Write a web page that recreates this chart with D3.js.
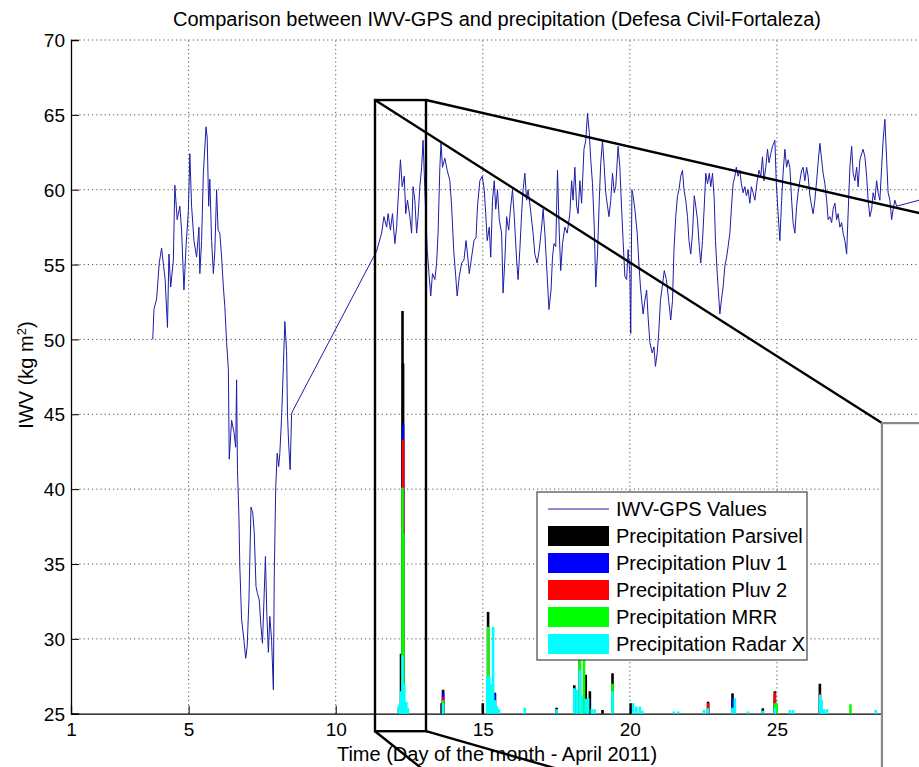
<!DOCTYPE html>
<html>
<head>
<meta charset="utf-8">
<script src="https://cdn.jsdelivr.net/npm/d3@7"></script>
<style>
  body { margin: 0; background: #fff; }
  text { font-family: "Liberation Sans", Arial, sans-serif; fill: #000; }
</style>
</head>
<body>
<svg></svg>
<script>
var width = 919,
	height = 767;

// IWV-GPS series [day, kg m-2]
var iwv = [
	[3.78,50.0],[3.82,52.0],[3.91,52.7],[4.0,55.1],[4.08,56.1],[4.2,54.0],[4.28,50.8],[4.33,55.7],[4.39,53.5],[4.48,55.3],
	[4.53,60.3],[4.61,58.0],[4.7,58.9],[4.76,57.3],[4.84,53.3],[4.91,56.2],[4.99,58.6],[5.04,62.4],[5.1,58.9],[5.18,56.6],
	[5.27,55.5],[5.35,57.5],[5.38,54.4],[5.44,56.6],[5.5,61.1],[5.59,64.2],[5.63,63.5],[5.68,58.9],[5.72,60.7],[5.78,56.6],
	[5.84,54.4],[5.89,55.9],[5.95,60.0],[6.0,57.3],[6.06,57.1],[6.12,55.5],[6.18,53.5],[6.23,52.2],[6.29,49.8],[6.35,48.0],
	[6.38,42.0],[6.46,44.6],[6.54,43.8],[6.6,42.8],[6.63,47.3],[6.66,41.3],[6.71,38.1],[6.74,34.8],[6.8,31.3],[6.88,29.9],
	[6.94,28.7],[6.99,29.5],[7.05,32.6],[7.12,38.8],[7.18,38.4],[7.23,37.1],[7.29,33.5],[7.33,33.1],[7.4,32.6],[7.46,30.8],
	[7.51,29.7],[7.57,33.1],[7.61,35.5],[7.66,31.5],[7.71,29.1],[7.76,31.5],[7.82,29.9],[7.88,26.6],[7.91,34.1],[7.96,40.1],
	[8.01,42.4],[8.06,41.5],[8.1,42.4],[8.16,44.8],[8.22,48.2],[8.27,51.2],[8.33,49.2],[8.36,45.0],[8.4,43.0],[8.45,41.3],
	[8.5,45.0],[8.53,45.2],
	[11.39,55.9],[11.56,57.1],[11.64,58.2],[11.73,57.5],[11.78,58.4],[11.86,57.3],[11.93,58.4],[12.01,56.4],[12.07,57.5],[12.12,59.3],
	[12.2,62.0],[12.26,60.2],[12.33,60.9],[12.38,58.4],[12.44,59.3],[12.52,58.2],[12.58,57.1],[12.63,60.2],[12.69,59.3],[12.75,57.1],
	[12.8,58.2],[12.86,60.2],[12.92,61.5],[12.97,63.3],[13.03,60.0],[13.11,56.0],[13.17,54.4],[13.23,52.9],[13.29,54.4],[13.37,54.0],
	[13.43,55.1],[13.48,57.1],[13.54,61.5],[13.58,63.1],[13.63,61.5],[13.71,62.1],[13.79,61.3],[13.88,60.6],[13.94,58.9],[14.01,56.0],
	[14.08,54.2],[14.13,52.9],[14.2,54.2],[14.28,55.1],[14.36,55.3],[14.43,56.6],[14.48,55.7],[14.54,54.4],[14.62,55.5],[14.7,56.6],
	[14.77,56.8],[14.82,58.9],[14.9,60.6],[14.98,60.9],[15.05,60.0],[15.1,58.4],[15.15,56.6],[15.22,57.5],[15.27,55.5],[15.33,59.3],
	[15.39,60.6],[15.44,58.7],[15.5,60.0],[15.56,58.0],[15.64,57.1],[15.69,53.1],[15.75,55.3],[15.81,58.2],[15.88,57.3],[15.94,58.7],
	[16.01,60.0],[16.07,58.2],[16.15,55.3],[16.2,54.0],[16.26,56.0],[16.32,58.4],[16.37,60.0],[16.43,61.1],[16.49,59.3],[16.54,60.0],
	[16.62,58.7],[16.71,57.1],[16.77,55.7],[16.85,55.1],[16.92,56.0],[17.0,57.5],[17.05,58.7],[17.11,57.1],[17.17,54.9],[17.25,52.0],
	[17.32,53.3],[17.37,55.5],[17.42,56.4],[17.48,56.2],[17.54,61.3],[17.6,57.1],[17.65,54.6],[17.71,56.4],[17.79,57.5],[17.87,57.1],
	[17.96,58.4],[18.02,60.6],[18.07,59.3],[18.13,61.5],[18.19,58.9],[18.24,58.4],[18.3,60.6],[18.36,59.1],[18.44,62.7],[18.5,63.3],
	[18.56,65.1],[18.62,63.8],[18.67,62.0],[18.73,60.4],[18.79,57.5],[18.84,53.5],[18.9,55.7],[18.96,59.3],[19.01,61.8],[19.07,63.3],
	[19.13,61.5],[19.18,59.8],[19.24,58.9],[19.29,58.2],[19.35,59.3],[19.41,61.1],[19.47,59.8],[19.52,60.2],[19.6,62.9],[19.66,61.5],
	[19.72,58.7],[19.77,56.6],[19.83,54.2],[19.89,54.0],[19.94,56.0],[20.0,54.4],[20.03,50.4],[20.07,60.0],[20.11,59.6],[20.17,58.7],
	[20.25,57.1],[20.3,55.3],[20.36,53.5],[20.45,51.7],[20.51,52.6],[20.57,53.3],[20.62,51.5],[20.68,49.8],[20.76,49.1],[20.82,49.5],
	[20.87,48.2],[20.93,49.1],[20.98,50.4],[21.04,52.6],[21.1,53.5],[21.17,54.6],[21.24,54.0],[21.32,52.6],[21.39,51.3],[21.45,52.6],
	[21.5,56.0],[21.56,58.2],[21.62,59.6],[21.67,60.0],[21.73,60.9],[21.79,61.3],[21.84,60.0],[21.9,59.3],[21.96,58.2],[22.01,56.6],
	[22.07,55.7],[22.13,57.1],[22.19,59.6],[22.24,58.9],[22.3,58.0],[22.36,56.2],[22.41,55.1],[22.47,56.6],[22.53,58.9],[22.58,61.1],
	[22.64,60.4],[22.7,61.1],[22.75,60.2],[22.81,61.1],[22.87,59.3],[22.91,56.6],[22.97,54.4],[23.03,52.6],[23.06,51.7],[23.11,52.6],
	[23.17,53.5],[23.23,54.9],[23.29,55.5],[23.34,56.2],[23.4,57.1],[23.45,58.7],[23.51,60.4],[23.57,60.9],[23.62,61.5],[23.68,60.9],
	[23.74,61.3],[23.79,60.4],[23.85,59.8],[23.91,60.2],[23.96,59.6],[24.02,60.0],[24.08,59.1],[24.13,60.2],[24.19,59.8],[24.25,59.3],
	[24.33,60.6],[24.39,61.3],[24.45,60.9],[24.51,62.2],[24.56,60.6],[24.62,61.5],[24.68,62.7],[24.73,61.8],[24.79,62.4],[24.85,62.9],
	[24.93,63.3],[24.98,60.4],[25.04,58.4],[25.1,56.6],[25.16,59.3],[25.21,61.1],[25.27,62.7],[25.33,61.5],[25.38,62.0],[25.44,61.5],
	[25.5,59.3],[25.55,57.8],[25.61,57.1],[25.67,58.9],[25.72,59.8],[25.78,60.6],[25.84,61.3],[25.89,61.5],[25.95,60.6],[26.01,61.5],
	[26.06,60.9],[26.12,59.6],[26.18,58.9],[26.23,58.4],[26.29,59.3],[26.35,60.6],[26.4,61.8],[26.46,63.1],[26.52,62.0],[26.57,61.1],
	[26.63,60.4],[26.69,59.3],[26.74,58.0],[26.8,58.2],[26.86,57.8],[26.91,58.7],[26.97,59.1],[27.03,58.0],[27.08,58.4],[27.14,57.5],
	[27.2,57.8],[27.25,57.1],[27.31,56.6],[27.37,55.7],[27.42,58.4],[27.48,61.5],[27.54,62.9],[27.59,61.1],[27.65,60.6],[27.71,61.5],
	[27.76,60.2],[27.82,62.0],[27.88,62.4],[27.93,62.7],[27.99,62.2],[28.05,60.9],[28.1,59.3],[28.16,58.2],[28.22,58.7],[28.27,59.8],
	[28.33,59.3],[28.39,60.6],[28.44,59.8],[28.5,59.3],[28.56,61.5],[28.61,63.3],[28.67,64.7],[28.73,62.0],[28.78,59.8],[28.84,59.3],
	[28.9,58.0],[28.95,58.7],[29.01,59.3],[29.07,58.9],[30.6,59.7]
];

// precipitation events [day, amount above the 25 baseline]
var parsivel = [[12.15,0.4],[12.22,4.0],[12.27,26.9],[12.29,23.4],[13.6,0.7],[13.65,1.6],[15.0,0.7],[15.18,6.8],[15.41,1.4],
	[17.51,0.4],[18.11,1.9],[18.3,4.8],[18.5,2.6],[18.64,1.5],[19.07,0.25],[19.41,2.7],[20.03,0.7],[22.66,0.8],[23.49,1.36],
	[24.52,0.36],[24.93,1.5],[26.46,2.0]];
var pluv1 = [[12.29,19.3],[13.65,1.4],[15.41,1.3],[23.49,1.03],[24.93,0.9]];
var pluv2 = [[12.29,18.3],[13.65,1.1],[22.66,0.7],[24.93,1.4],[26.46,1.36]];
var mrr = [[12.27,15.1],[12.3,12.0],[13.65,0.9],[15.18,5.8],[18.3,3.9],[18.44,6.5],[19.41,2.0],[23.49,0.3],[24.93,0.7],
	[24.99,0.7],[27.5,0.63]];
var radarX = [[12.15,0.6],[12.22,1.5],[12.27,3.9],[12.33,2.0],[12.4,0.8],[12.45,0.4],[13.65,0.7],[15.15,2.5],[15.22,2.5],
	[15.29,2.0],[15.35,5.8],[15.41,0.9],[15.47,0.5],[15.55,0.3],[16.43,0.4],[17.51,0.3],[18.11,1.7],[18.19,1.6],[18.3,2.9],
	[18.37,1.2],[18.5,1.0],[18.58,1.05],[18.7,0.3],[18.8,0.3],[19.41,1.5],[20.11,0.7],[20.22,0.47],[20.34,0.47],[20.42,0.2],
	[21.5,0.15],[21.65,0.15],[22.52,0.25],[22.66,0.36],[23.49,0.4],[23.57,1.03],[24.02,0.15],[24.52,0.2],[24.93,0.4],
	[25.44,0.25],[25.55,0.25],[26.46,1.25],[26.52,0.9],[26.6,0.3],[26.7,0.3],[28.36,0.25]];

var seriesNames = ["Precipitation Parsivel","Precipitation Pluv 1","Precipitation Pluv 2","Precipitation MRR","Precipitation Radar X"];
var seriesColors = ["#000000","#0000ff","#ff0000","#00ff00","#00ffff"];
var xTicks = [1,5,10,15,20,25];
var xGrid = [5,10,15,20,25,30];
var yTicks = [25,30,35,40,45,50,55,60,65,70];

// zoom annotation, in data units
var zoomBox = {x0: 11.335, x1: 13.069, y0: 23.83, y1: 65.99};
var insetBox = {x0: 28.57, x1: 61.0, y0: -3.16, y1: 44.41};

var svg = d3.select("svg")
			.attr("width",width)
			.attr("height",height);

var x = d3.scaleLinear().domain([1,30]).range([71,924]);
var y = d3.scaleLinear().domain([25,70]).range([713.7,40]);

// grid
svg.append("g")
	.selectAll("line")
	.data(xGrid)
	.enter().append("line")
	.attr("x1", function(d){ return x(d); })
	.attr("x2", function(d){ return x(d); })
	.attr("y1", y(25)).attr("y2", y(70))
	.attr("stroke","#555").attr("stroke-dasharray","1.2,3");
svg.append("g")
	.selectAll("line")
	.data(yTicks.filter(function(d){ return d > 25; }))
	.enter().append("line")
	.attr("x1", x(1)).attr("x2", x(30))
	.attr("y1", function(d){ return y(d); })
	.attr("y2", function(d){ return y(d); })
	.attr("stroke","#555").attr("stroke-dasharray","1.2,3");

// axes
var xAxis = svg.append("g")
	.attr("transform","translate(0," + y(25) + ")")
	.call(d3.axisBottom(x).tickValues(xTicks).tickSize(-8).tickPadding(9).tickFormat(d3.format("d")));
var yAxis = svg.append("g")
	.attr("transform","translate(" + x(1) + ",0)")
	.call(d3.axisLeft(y).tickValues(yTicks).tickSize(-8).tickPadding(6).tickFormat(d3.format("d")));
[xAxis, yAxis].forEach(function(a){
	a.select(".domain").attr("stroke","#000").attr("stroke-width",1.3);
	a.selectAll(".tick line").attr("stroke","#000");
	a.selectAll("text").style("font-size","19px").attr("fill","#000");
});
yAxis.selectAll("text").attr("dy","0.35em");

// IWV line
var line = d3.line()
	.x(function(d){ return x(d[0]); })
	.y(function(d){ return y(d[1]); });
svg.append("path")
	.attr("d", line(iwv))
	.attr("fill","none")
	.attr("stroke","#1c1ca8")
	.attr("stroke-width",1);

// precipitation bars, drawn back to front
var allPrecip = [parsivel, pluv1, pluv2, mrr, radarX];
allPrecip.forEach(function(s, i){
	svg.append("g")
		.selectAll("rect")
		.data(s)
		.enter().append("rect")
		.attr("x", function(d){ return x(d[0]) - 1.3; })
		.attr("width", 2.6)
		.attr("y", function(d){ return y(25 + d[1]); })
		.attr("height", function(d){ return y(25) - y(25 + d[1]); })
		.attr("fill", seriesColors[i]);
});

// title and labels
svg.append("text")
	.attr("x",497).attr("y",26)
	.attr("text-anchor","middle")
	.style("font-size","20px")
	.text("Comparison between IWV-GPS and precipitation (Defesa Civil-Fortaleza)");
svg.append("text")
	.attr("x",497).attr("y",761)
	.attr("text-anchor","middle")
	.style("font-size","20px")
	.text("Time (Day of the month - April 2011)");
var yl = svg.append("text")
	.attr("transform","translate(33,375) rotate(-90)")
	.attr("text-anchor","middle")
	.style("font-size","20px");
yl.append("tspan").text("IWV (kg m");
yl.append("tspan").attr("dy",-7).style("font-size","13px").text("2");
yl.append("tspan").attr("dy",7).text(")");

// legend
var legend = svg.append("g");
legend.append("rect")
	.attr("x",537).attr("y",492).attr("width",270).attr("height",168)
	.attr("fill","#fff").attr("stroke","#444").attr("stroke-width",1.2);
legend.append("line")
	.attr("x1",548).attr("x2",609).attr("y1",509).attr("y2",509)
	.attr("stroke","#1c1ca8").attr("stroke-width",1);
legend.append("text").attr("x",616).attr("y",516).style("font-size","20px").text("IWV-GPS Values");
seriesNames.forEach(function(n, i){
	var cy = 536 + i * 27;
	legend.append("rect")
		.attr("x",548).attr("y",cy - 10).attr("width",61).attr("height",20)
		.attr("fill",seriesColors[i]);
	legend.append("text").attr("x",616).attr("y",cy + 7).style("font-size","20px").text(n);
});

// zoom annotation
svg.append("rect")
	.attr("x", x(zoomBox.x0)).attr("y", y(zoomBox.y1))
	.attr("width", x(zoomBox.x1) - x(zoomBox.x0))
	.attr("height", y(zoomBox.y0) - y(zoomBox.y1))
	.attr("fill","none").attr("stroke","#000").attr("stroke-width",2.4);
var links = [
	[zoomBox.x0, zoomBox.y1, insetBox.x0, insetBox.y1],
	[zoomBox.x1, zoomBox.y1, insetBox.x1, insetBox.y1],
	[zoomBox.x0, zoomBox.y0, insetBox.x0, insetBox.y0],
	[zoomBox.x1, zoomBox.y0, insetBox.x1, insetBox.y0]
];
svg.append("g")
	.selectAll("line")
	.data(links)
	.enter().append("line")
	.attr("x1", function(d){ return x(d[0]); })
	.attr("y1", function(d){ return y(d[1]); })
	.attr("x2", function(d){ return x(d[2]); })
	.attr("y2", function(d){ return y(d[3]); })
	.attr("stroke","#000").attr("stroke-width",2.4);
svg.append("rect")
	.attr("x", x(insetBox.x0)).attr("y", y(insetBox.y1))
	.attr("width", x(insetBox.x1) - x(insetBox.x0))
	.attr("height", y(insetBox.y0) - y(insetBox.y1))
	.attr("fill","#fff").attr("stroke","#888").attr("stroke-width",2.2);
</script>
</body>
</html>
